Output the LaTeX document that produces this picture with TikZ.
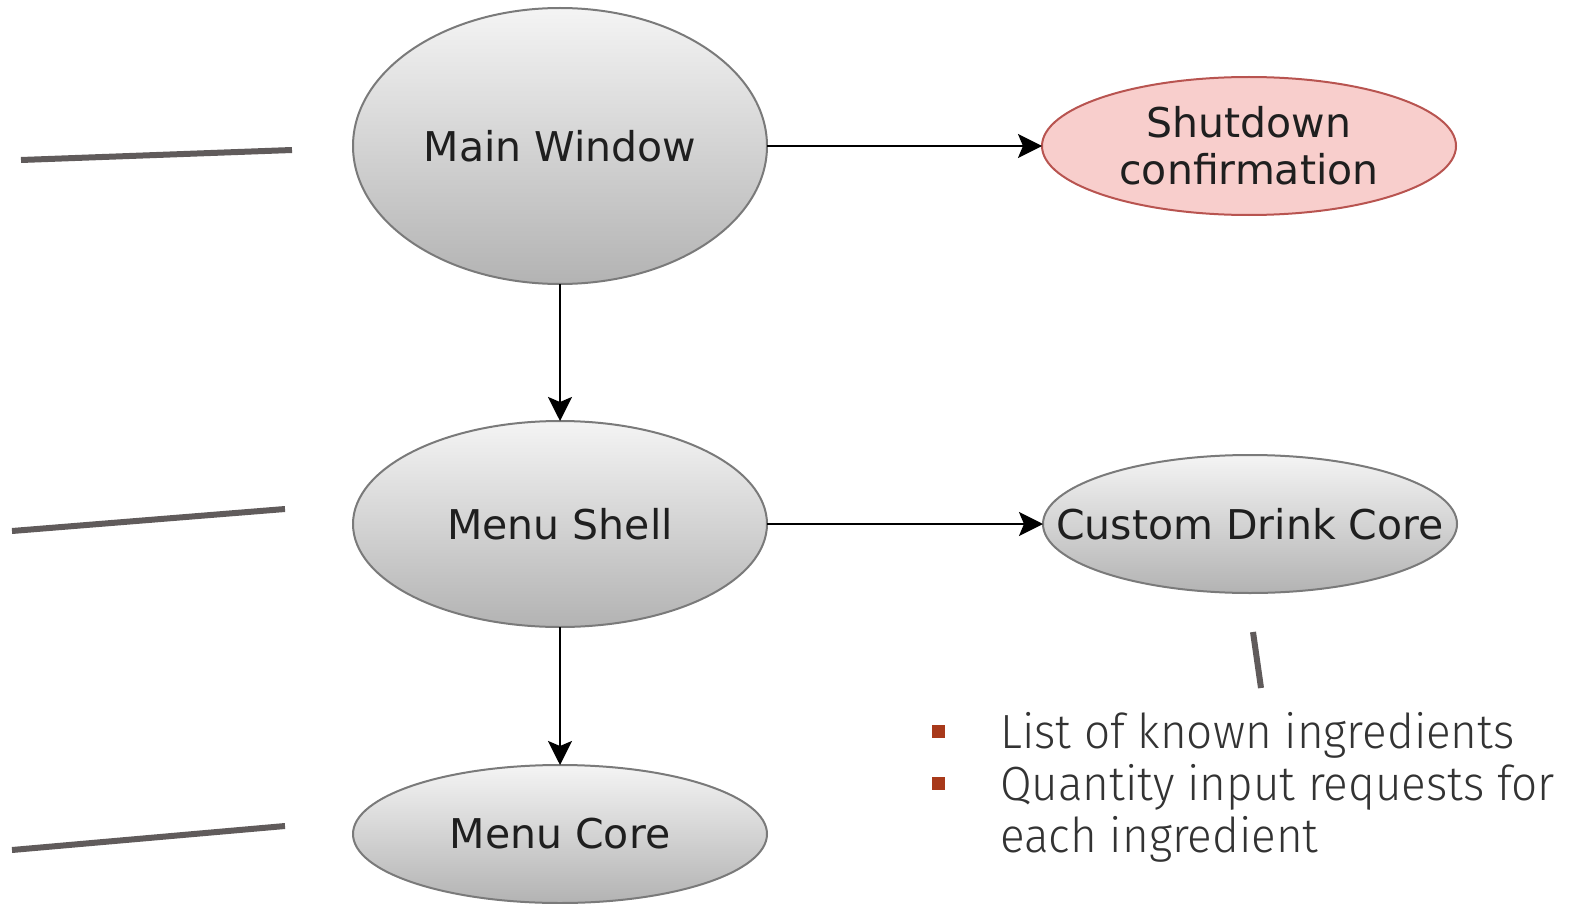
\documentclass[tikz,border=0pt]{standalone}
\usepackage{fontspec}
\setmainfont{DejaVu Sans}
\newfontfamily\thinfont{Fira Sans Light}[FakeStretch=0.955]
\usetikzlibrary{shapes.geometric,arrows.meta}
\definecolor{ellgray}{HTML}{7A7A7A}
\definecolor{gtop}{HTML}{F4F4F4}
\definecolor{gbot}{HTML}{B3B3B3}
\definecolor{redline}{HTML}{B85450}
\definecolor{redfill}{HTML}{F8CECC}
\definecolor{linegray}{HTML}{605B5B}
\definecolor{rust}{HTML}{A8391A}
\definecolor{textgray}{HTML}{333333}
\begin{document}
\begin{tikzpicture}[x=1pt,y=-1pt,
  grayell/.style={ellipse, draw=ellgray, line width=2pt, top color=gtop, bottom color=gbot, inner sep=0pt, outer sep=0pt},
  redell/.style={ellipse, draw=redline, line width=2pt, fill=redfill, inner sep=0pt, outer sep=0pt},
  lbl/.style={font=\fontsize{41}{47}\selectfont, text=black!88, align=center, inner sep=0pt},
  arr/.style={-{Stealth[length=24pt,width=24pt,inset=5pt]}, line width=2.5pt, black},
  slideline/.style={line width=6pt, color=linegray},
  bulletsq/.style={rectangle, fill=rust, minimum size=13pt, inner sep=0pt},
  itemtext/.style={font=\thinfont\fontsize{48}{52}\selectfont, text=textgray, inner sep=0pt, anchor=base west}
]
\useasboundingbox (0,0) rectangle (1573,904);
% slide lines
\draw[slideline] (21,160) -- (292,150);
\draw[slideline] (12,531) -- (285,509);
\draw[slideline] (12,850) -- (285,826);
\draw[slideline] (1253,632) -- (1261,688);
% nodes
\node[grayell, minimum width=414pt, minimum height=276pt, label={[lbl]center:Main Window}] (mw) at (560,146) {};
\node[redell, minimum width=414pt, minimum height=138pt, label={[lbl]center:Shutdown\\confirmation}] (sd) at (1249,146) {};
\node[grayell, minimum width=414pt, minimum height=206pt, label={[lbl]center:Menu Shell}] (ms) at (560,524) {};
\node[grayell, minimum width=414pt, minimum height=138pt, label={[lbl]center:Custom Drink Core}] (cd) at (1250,524) {};
\node[grayell, minimum width=414pt, minimum height=138pt, label={[lbl]center:Menu Core}] (mc) at (560,834) {};
% connectors
\draw[arr] (mw) -- (sd);
\draw[arr] (mw) -- (ms);
\draw[arr] (ms) -- (cd);
\draw[arr] (ms) -- (mc);
% bullet list
\node[bulletsq] (b1) at (938,731) {};
\node[bulletsq] (b2) at (938,783) {};
\node[itemtext] (t1) at (1000,748) {List of known ingredients};
\node[itemtext] (t2) at (1000,800) {Quantity input requests for};
\node[itemtext] (t3) at (1000,852) {each ingredient};
\end{tikzpicture}
\end{document}
